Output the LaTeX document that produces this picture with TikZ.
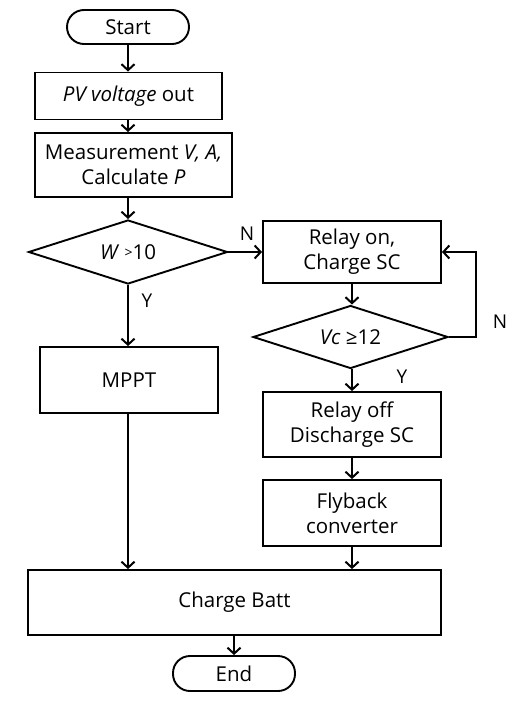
\documentclass[tikz,border=0pt]{standalone}
\usepackage{fontspec}
\setmainfont{Open Sans}
\usetikzlibrary{arrows.meta,shapes.geometric}
\begin{document}
\begin{tikzpicture}[x=1pt,y=-1pt,
  every node/.style={font=\fontsize{20.5}{25}\selectfont, align=center, inner sep=0pt},
  box/.style={draw, line width=1.9pt, rectangle},
  term/.style={draw, line width=1.9pt, rectangle, rounded corners=17pt},
  dec/.style={draw, line width=1.9pt, diamond, aspect=3.1},
  arr/.style={line width=2pt, -{Straight Barb[length=6pt,width=13pt,line width=2pt]}},
  lbl/.style={font=\fontsize{19}{22}\selectfont}]
\useasboundingbox (0,0) rectangle (520,701);
\node[term, minimum width=122pt, minimum height=34pt] (start) at (128,27) {Start};
\node[box, minimum width=187pt, minimum height=47pt] (pv) at (128.5,96) {\itshape PV voltage\upshape\ out};
\node[box, minimum width=197pt, minimum height=64pt] (meas) at (133.5,165) {Measurement \textit{V, A,}\\Calculate \textit{P}};
\node[dec, minimum width=199pt, minimum height=64pt] (w) at (128,252) {\textit{W} \raisebox{1.5pt}{\fontsize{14}{16}\selectfont >}10};
\node[box, minimum width=178pt, minimum height=62pt] (ron) at (352,252) {Relay on,\\Charge SC};
\node[dec, minimum width=195pt, minimum height=63pt] (vc) at (350.5,337) {\textit{Vc} ≥12};
\node[box, minimum width=178pt, minimum height=66pt] (mppt) at (129,380) {MPPT};
\node[box, minimum width=178pt, minimum height=65pt] (roff) at (352,424.5) {Relay off\\Discharge SC};
\node[box, minimum width=178pt, minimum height=66pt] (fly) at (352,513) {Flyback\\converter};
\node[box, minimum width=413pt, minimum height=65pt] (batt) at (234.5,602.5) {Charge Batt};
\node[term, minimum width=122pt, minimum height=35pt] (end) at (234,673.5) {End};
\coordinate (fb) at (476,337);
\draw[arr] (start.south) -- (start.south |- pv.north);
\draw[arr] (pv.south -| start.south) -- (start.south |- meas.north);
\draw[arr] (meas.south -| w.north) -- (w.north);
\draw[arr] (w.east) -- (ron.west);
\draw[arr] (ron.south) -- (vc.north -| ron.south);
\draw[arr] (vc.south -| ron.south) -- (roff.north);
\draw[arr] (roff.south) -- (fly.north);
\draw[arr] (fly.south) -- (batt.north -| fly.south);
\draw[arr] (w.south) -- (mppt.north -| w.south);
\draw[arr] (mppt.south -| w.south) -- (batt.north -| w.south);
\draw[arr] (batt.south -| end.north) -- (end.north);
\draw[arr] (vc.east) -- (fb) |- (ron.east);
\node[lbl] (n1) at (247,234) {N};
\node[lbl] (y1) at (147,301) {Y};
\node[lbl] (n2) at (500,322) {N};
\node[lbl] (y2) at (402,377) {Y};
\end{tikzpicture}
\end{document}
